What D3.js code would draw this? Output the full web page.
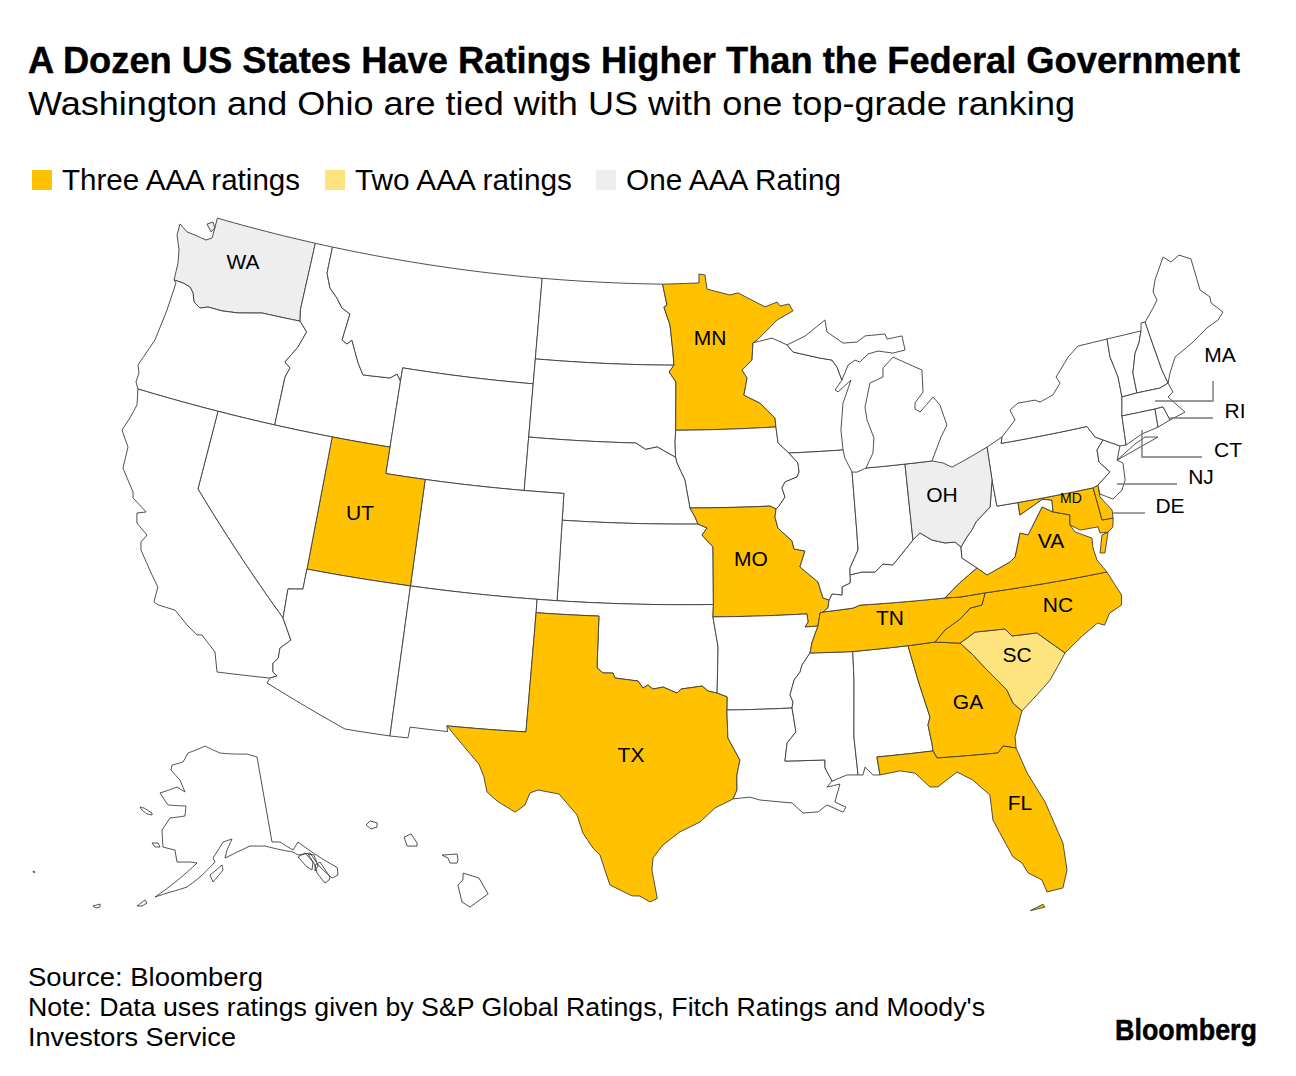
<!DOCTYPE html>
<html><head><meta charset="utf-8">
<script src="https://cdn.jsdelivr.net/npm/d3@7"></script>
<style>
html,body{margin:0;padding:0;background:#fff}
svg{display:block}
text{font-family:"Liberation Sans",Arial,sans-serif;fill:#000}
</style></head><body><svg id="c" width="1296" height="1076"></svg>
<script>
// ---- rating groups ----
const threeAAA=["MN","UT","MO","TX","TN","NC","VA","MD","DE","GA","FL"];
const twoAAA=["SC"];
const oneAAA=["WA","OH"];
const legendLabels=["Three AAA ratings","Two AAA ratings","One AAA Rating"];
const legendColors=["#FFC100","#FDE47F","#EEEEEE"];

// ---- shared borders, [lon, lat] ----
const waCoast=[[-117.04,49],[-122.76,49],[-122.74,48.34],[-122.74,48.22],[-123.03,48.08],[-123.7,48.14],[-124.18,48.17],[-124.68,48.38],[-124.66,47.95],[-124.31,47.43],[-124.15,46.94],[-124.09,46.29]];
const sanJuan=[[-123.23,48.67],[-122.94,48.81],[-122.74,48.61],[-122.89,48.43]];
const waOr=[[-124.09,46.29],[-123.58,46.28],[-123.15,46.21],[-122.9,46.02],[-122.72,45.71],[-122.32,45.55],[-121.92,45.67],[-121.14,45.67],[-120.28,45.75],[-119.02,45.97],[-116.92,46]];
const waId=[[-116.92,46],[-117.04,46.42],[-117.04,49]];
const orCoast=[[-124.09,46.29],[-123.94,46.2],[-123.98,45.13],[-124.13,43.93],[-124.59,42.85],[-124.42,42.57],[-124.43,42.22],[-124.23,41.99]];
const caOr=[[-124.23,41.99],[-120,42]];
const nvOr=[[-120,42],[-117.03,42]];
const orId=[[-117.03,42],[-117.05,43.83],[-116.9,44.2],[-117.23,44.38],[-116.73,45.03],[-116.45,45.66],[-116.92,46]];
const idNorth=[[-117.04,49],[-116.05,49]];
const idMt=[[-116.05,49],[-116.04,47.99],[-115.71,47.46],[-115.22,47.14],[-114.84,46.81],[-114.35,46.65],[-114.5,45.63],[-114.2,45.52],[-113.98,45.7],[-113.43,44.9],[-113.06,44.49],[-111.63,44.55],[-111.29,44.74],[-111.09,44.54],[-111.05,44.48]];
const idWy=[[-111.05,44.48],[-111.05,42]];
const idUt=[[-111.05,42],[-114.04,42]];
const idNv=[[-114.04,42],[-117.03,42]];
const mtNorth=[[-116.05,49],[-104.05,49]];
const ndMt=[[-104.05,49],[-104.05,45.94]];
const sdMt=[[-104.05,45.94],[-104.05,45]];
const mtWy=[[-104.05,45],[-111.05,45],[-111.05,44.48]];
const wySd=[[-104.05,45],[-104.05,43]];
const wyNe=[[-104.05,43],[-104.05,41]];
const wyCo=[[-104.05,41],[-109.05,41]];
const wyUt=[[-109.05,41],[-111.05,41],[-111.05,42]];
const ndNorth=[[-104.05,49],[-97.23,49]];
const ndMn=[[-97.23,49],[-96.97,48.21],[-97.14,48.13],[-96.79,47.45],[-96.62,46.44],[-96.56,45.94]];
const ndSd=[[-96.56,45.94],[-104.05,45.94]];
const sdMn=[[-96.45,43.5],[-96.45,45.31],[-96.82,45.68],[-96.56,45.94]];
const sdIa=[[-96.45,42.49],[-96.48,43.06],[-96.45,43.5]];
const sdNe=[[-104.05,43],[-98.5,43],[-98,42.77],[-97.4,42.87],[-96.45,42.49]];
const mnNorth=[[-97.23,49],[-95.17,49.05],[-95.17,49.39],[-94.83,49.35],[-94.72,48.81],[-93.43,48.57],[-92.98,48.64],[-91.5,48.07],[-90.82,48.23],[-90.66,48.07],[-90.16,48.13],[-89.96,47.86],[-90.87,47.55],[-92.02,46.83],[-92.25,46.73]];
const mnWi=[[-92.25,46.73],[-92.34,46.09],[-92.9,45.72],[-92.64,45.42],[-92.84,44.78],[-92.01,44.46],[-91.25,43.87],[-91.23,43.54]];
const mnIa=[[-91.23,43.54],[-96.45,43.5]];
const iaNe=[[-96.45,42.49],[-96.38,42.28],[-95.97,41.64],[-95.72,40.6]];
const iaMo=[[-95.72,40.6],[-91.72,40.6],[-91.43,40.48]];
const iaIl=[[-91.43,40.48],[-91.27,40.59],[-90.95,40.91],[-91.08,41.25],[-90.91,41.47],[-90.29,41.63],[-90.17,41.81],[-90.2,42.15],[-90.63,42.54]];
const iaWi=[[-90.63,42.54],[-91.16,42.94],[-91.23,43.54]];
const neMo=[[-95.72,40.6],[-95.47,40.26],[-95.32,40]];
const neKs=[[-95.32,40],[-102.05,40]];
const neCo=[[-102.05,40],[-102.05,41],[-104.05,41]];
const ksMo=[[-95.32,40],[-94.88,39.85],[-95.13,39.59],[-94.6,39.14],[-94.62,37]];
const ksOk=[[-94.62,37],[-102.05,37]];
const ksCo=[[-102.05,37],[-102.05,40]];
const coOk=[[-102.05,37],[-103,37]];
const coNm=[[-103,37],[-109.05,37]];
const coUt=[[-109.05,37],[-109.05,41]];
const utAz=[[-109.05,37],[-114.03,36.99]];
const utNv=[[-114.03,36.99],[-114.04,42]];
const azNv=[[-114.03,36.99],[-114.04,36.23],[-114.73,36.13],[-114.69,35.03]];
const caNv=[[-114.69,35.03],[-120,39.01],[-120,42]];
const caAz=[[-114.69,35.03],[-114.14,34.28],[-114.56,33.91],[-114.55,33.53],[-114.74,33.31],[-114.66,32.98],[-114.45,32.87],[-114.74,32.74]];
const caCoast=[[-114.74,32.74],[-117.12,32.55],[-117.41,33.26],[-118.16,33.77],[-118.38,33.73],[-118.93,34],[-119.63,34.43],[-120.44,34.46],[-120.66,34.53],[-120.66,35.1],[-121.07,35.48],[-121.88,36.27],[-121.98,36.55],[-121.79,36.86],[-122.41,37.19],[-122.54,37.55],[-122.13,37.68],[-122.92,38.05],[-123,38.26],[-123.8,39.01],[-123.86,39.81],[-124.39,40.35],[-124.19,40.87],[-124.04,41.41],[-124.23,41.99]];
const azNm=[[-109.05,37],[-109.04,31.35]];
const azMex=[[-109.04,31.35],[-111.05,31.36],[-114.83,32.54],[-114.74,32.74]];
const nmOk=[[-103,37],[-103,36.5]];
const nmTx=[[-103,36.5],[-103.06,32.04],[-106.59,31.99]];
const nmMex=[[-106.59,31.99],[-106.53,31.78],[-108.21,31.78],[-108.24,31.37],[-109.04,31.35]];
const okMo=[[-94.62,37],[-94.65,36.54]];
const okAr=[[-94.65,36.54],[-94.43,35.42],[-94.51,33.7]];
const okTx=[[-94.51,33.7],[-94.92,33.78],[-95.19,33.97],[-96.15,33.86],[-96.33,33.71],[-96.97,33.93],[-97.43,33.85],[-97.66,34],[-97.89,33.88],[-98.12,34.14],[-99.18,34.23],[-99.28,34.41],[-99.73,34.4],[-100.02,34.58],[-100.03,36.51],[-103,36.5]];
const moIl=[[-91.43,40.48],[-91.5,40.18],[-91.38,39.77],[-90.72,39.26],[-90.65,38.96],[-90.12,38.86],[-90.41,38.28],[-89.59,37.68],[-89.4,37.07],[-89.12,36.98]];
const moKy=[[-89.12,36.98],[-89.2,36.69],[-89.45,36.55]];
const moTn=[[-89.45,36.55],[-89.59,36.52],[-89.73,36.04]];
const moAr=[[-89.73,36.04],[-90.34,36.04],[-90.18,36.22],[-90.21,36.52],[-94.65,36.54]];
const arTn=[[-89.73,36.04],[-90.05,35.46],[-90.18,35.06]];
const arMs=[[-90.18,35.06],[-90.58,34.63],[-90.69,34.37],[-90.98,34.09],[-91.2,33.54],[-91.08,33.27],[-91.14,33.05]];
const arLa=[[-91.14,33.05],[-94.08,33.06]];
const arTx=[[-94.08,33.06],[-94.06,33.55],[-94.51,33.7]];
const txLa=[[-94.08,33.06],[-94.06,32.02],[-93.55,31.18],[-93.7,30.62],[-93.71,30.06],[-93.89,29.73]];
const txCoast=[[-93.89,29.73],[-94.68,29.4],[-95.33,28.88],[-96.19,28.51],[-96.91,28.01],[-97.32,27.52],[-97.36,27.06],[-97.12,25.99],[-97.42,25.85],[-97.84,26.07],[-98.17,26.07],[-99.1,26.46],[-99.56,27.58],[-99.87,27.83],[-100.32,28.38],[-100.61,29.05],[-101.43,29.8],[-102.35,29.9],[-102.69,29.77],[-102.87,29.3],[-103.27,29.01],[-104.08,29.37],[-104.55,29.68],[-104.74,30.23],[-105.01,30.69],[-106.59,31.99]];
const laMs=[[-91.14,33.05],[-91.02,32.15],[-91.44,31.75],[-91.57,31.08],[-89.81,31.04],[-89.83,30.74],[-89.56,30.23]];
const laCoast=[[-89.56,30.23],[-89.8,30.02],[-89.23,30.1],[-89.5,29.44],[-89.04,29.22],[-89.18,29.04],[-89.85,29.35],[-90.25,29.11],[-90.9,29.1],[-91.35,29.5],[-91.87,29.56],[-92.73,29.66],[-93.16,29.78],[-93.89,29.73]];
const tnMs=[[-90.18,35.06],[-88.2,35]];
const msAl=[[-88.2,35],[-88.25,33.94],[-88.46,31.82],[-88.41,30.39]];
const msCoast=[[-88.41,30.39],[-88.89,30.42],[-89.56,30.23]];
const tnAl=[[-88.2,35],[-85.63,35.02]];
const alGa=[[-85.63,35.02],[-85.35,33.71],[-85,32.28],[-85.13,32],[-85.05,31.31],[-85.04,31.01]];
const alFl=[[-85.04,31.01],[-87.52,31],[-87.46,30.32]];
const alCoast=[[-87.46,30.32],[-87.76,30.34],[-88.08,30.66],[-88.2,30.37],[-88.41,30.39]];
const tnGa=[[-85.63,35.02],[-84.37,35.04]];
const ncGa=[[-84.37,35.04],[-83.23,34.88]];
const gaSc=[[-83.23,34.88],[-82.71,34.38],[-82.25,33.83],[-81.79,33.32],[-81.42,32.9],[-81.24,32.38],[-80.9,32.04]];
const gaCoast=[[-80.9,32.04],[-81.38,31.12],[-81.41,30.7]];
const gaFl=[[-81.41,30.7],[-81.96,30.85],[-82.23,30.62],[-84.9,30.73],[-85.04,31.01]];
const flCoast=[[-81.41,30.7],[-81.1,29.71],[-80.54,28.53],[-80.08,26.89],[-80.1,25.86],[-80.39,25.21],[-81.06,25.16],[-81.19,25.64],[-81.71,25.98],[-81.9,26.39],[-82.23,26.66],[-82.85,28.15],[-82.83,29.1],[-83.47,29.74],[-84.11,30.12],[-85.01,29.65],[-85.35,29.68],[-85.93,30.26],[-86.57,30.4],[-87.46,30.32]];
const flKeys=[[-81.85,24.55],[-81.3,24.72],[-81.25,24.6]];
const ncSc=[[-78.54,33.9],[-79.65,34.82],[-80.81,34.86],[-81.08,35.16],[-82.47,35.21],[-83.23,34.88]];
const scCoast=[[-80.9,32.04],[-80.12,32.54],[-79.43,33],[-78.54,33.9]];
const ncCoast=[[-78.54,33.9],[-77.68,34.37],[-76.82,34.76],[-76.52,34.63],[-76.18,35.03],[-75.56,35.23],[-75.46,35.6],[-75.9,36.55]];
const vaNc=[[-75.9,36.55],[-80.21,36.59],[-81.74,36.6]];
const tnNc=[[-81.74,36.6],[-81.97,36.17],[-82.54,36.12],[-83.07,35.77],[-83.84,35.44],[-84.37,35.04]];
const kyTn=[[-83.65,36.62],[-87.68,36.7],[-88.02,36.61],[-89.45,36.55]];
const vaTn=[[-81.74,36.6],[-82.94,36.58],[-83.65,36.62]];
const vaKy=[[-83.65,36.62],[-82.85,37.11],[-81.94,37.56]];
const kyWv=[[-81.94,37.56],[-82.59,38.01],[-82.56,38.42]];
const ohKy=[[-82.56,38.42],[-82.81,38.63],[-83.3,38.65],[-83.91,38.82],[-84.45,39.14],[-84.83,38.91]];
const inKy=[[-84.83,38.91],[-85.93,38.07],[-86.4,38.14],[-86.82,37.87],[-87.44,37.92],[-88.03,37.85]];
const ilKy=[[-88.03,37.85],[-88.06,37.55],[-88.46,37.43],[-88.49,37.13],[-88.96,37.2],[-89.12,36.98]];
const vaCoast=[[-75.9,36.55],[-76.24,37.06],[-76.31,37.53],[-76.26,37.9]];
const vaBay=[[-76.26,37.9],[-77,38.25],[-77.17,38.54]];
const vaMd=[[-77.17,38.54],[-77.08,38.91],[-77.86,39.14]];
const vaWv=[[-81.94,37.56],[-81.52,37.25],[-80.34,37.59],[-80.06,37.74],[-79.63,38.59],[-79.26,38.47],[-78.34,39.4],[-77.86,39.14]];
const vaShore=[[-75.44,37.99],[-75.76,37.93],[-76.03,37.29],[-75.8,37.26]];
const ohWv=[[-80.55,40.71],[-80.86,39.73],[-81.66,39.26],[-81.91,38.99],[-82.2,38.76],[-82.56,38.42]];
const wvMd=[[-77.86,39.14],[-77.8,39.58],[-78.26,39.68],[-79.48,39.25],[-79.47,39.72]];
const wvPa=[[-79.47,39.72],[-80.52,39.72],[-80.55,40.71]];
const mdPa=[[-79.47,39.72],[-75.69,39.72]];
const mdDe=[[-75.69,39.72],[-75.6,38.48],[-75.06,38.46]];
const mdShore=[[-75.06,38.46],[-75.16,38.14],[-75.44,37.99],[-75.83,38.02],[-75.86,38.26],[-76.74,38.28],[-77.17,38.54]];
const dePa=[[-75.69,39.72],[-75.43,39.78]];
const deCoast=[[-75.43,39.78],[-75.46,39.33],[-75.02,38.76],[-75.06,38.46]];
const paNj=[[-75.43,39.78],[-74.71,40.16],[-75.13,40.61],[-75.1,41.06],[-74.69,41.38]];
const paNy=[[-74.69,41.38],[-75.05,41.55],[-75.34,42],[-79.79,42],[-79.69,42.23]];
const paErie=[[-79.69,42.23],[-80.53,41.95]];
const ohPa=[[-80.53,41.95],[-80.55,40.71]];
const nyNj=[[-74.69,41.38],[-73.93,41.02],[-74.23,40.53]];
const njCoast=[[-74.23,40.53],[-73.98,40.37],[-74.07,39.74],[-74.33,39.4],[-74.86,39.15],[-75.43,39.44],[-75.43,39.78]];
const nyLakes=[[-79.69,42.23],[-78.88,42.77],[-79.05,43.17],[-78.57,43.37],[-77.68,43.36],[-77.44,43.25],[-76.71,43.42],[-76.22,43.8],[-76.36,44.05],[-75.52,44.69],[-74.88,45.01],[-73.29,45.02]];
const nyVt=[[-73.29,45.02],[-73.36,44.34],[-73.2,43.54],[-73.25,42.78]];
const nyMa=[[-73.25,42.78],[-73.48,42.09]];
const nyCt=[[-73.48,42.09],[-73.62,41]];
const longIsland=[[-74.23,40.53],[-73.17,40.96],[-72.6,41.12],[-71.97,41]];
const vtNorth=[[-73.29,45.02],[-71.43,45]];
const vtNh=[[-71.43,45],[-71.7,44.58],[-72.03,44.25],[-72.4,43.55],[-72.45,42.79]];
const vtMa=[[-72.45,42.79],[-73.25,42.78]];
const nhMa=[[-72.45,42.79],[-71.24,42.75],[-70.77,42.85]];
const nhMe=[[-70.77,42.85],[-70.9,43.38],[-71.1,45.28]];
const nhTop=[[-71.1,45.28],[-71.32,45.29],[-71.43,45]];
const meCoast=[[-70.77,42.85],[-70.54,43.19],[-70.06,43.72],[-69.01,44.05],[-68.03,44.43],[-67.35,44.59],[-66.97,44.82],[-67.43,45.28],[-67.39,45.51],[-67.79,45.87],[-67.77,47.09],[-68.34,47.36],[-68.87,47.19],[-69.21,47.46],[-69.98,46.71],[-70.26,46.29],[-70.17,45.96],[-70.49,45.71],[-71.1,45.28]];
const maCoast=[[-70.77,42.85],[-70.65,42.48],[-70.96,42.35],[-70.7,42.06],[-70.33,41.64],[-71.17,41.5]];
const maRi=[[-71.17,41.5],[-71.34,42.04],[-71.76,42.04]];
const maCt=[[-71.76,42.04],[-73.48,42.09]];
const ctRi=[[-71.76,42.04],[-71.84,41.36]];
const ctCoast=[[-71.84,41.36],[-72.71,41.26],[-73.62,41]];
const riCoast=[[-71.17,41.5],[-71.84,41.36]];
const wiSuperior=[[-92.25,46.73],[-91.2,46.88],[-90.4,46.59]];
const wiUp=[[-90.4,46.59],[-90.1,46.31],[-88.66,46.01],[-88.03,45.9],[-87.79,45.62],[-87.59,45.12]];
const wiLake=[[-87.59,45.12],[-88,44.77],[-87.85,44.69],[-87.11,45.09],[-87.45,44.55],[-87.64,44.26],[-87.87,43.26],[-87.85,42.51]];
const wiIl=[[-87.85,42.51],[-90.63,42.54]];
const ilLake=[[-87.85,42.51],[-87.79,42.2],[-87.49,41.66]];
const ilIn=[[-87.49,41.66],[-87.52,39.38],[-87.54,38.75],[-88,38.11],[-88.03,37.85]];
const inLake=[[-86.77,41.76],[-87.24,41.64],[-87.49,41.66]];
const inOh=[[-84.78,41.75],[-84.83,38.91]];
const miIn=[[-84.78,41.75],[-86.77,41.76]];
const miOh=[[-84.78,41.75],[-83.4,41.74]];
const ohLake=[[-83.4,41.74],[-82.86,41.61],[-82.44,41.41],[-81.46,41.68],[-80.53,41.95]];
const miLower=[[-83.4,41.74],[-82.78,42.58],[-82.39,42.99],[-82.6,43.77],[-82.9,44.1],[-83.68,43.61],[-83.92,43.75],[-83.88,43.97],[-83.39,44.34],[-83.29,45.16],[-84.74,45.78],[-85.34,45.42],[-85.4,45.08],[-86.12,44.91],[-86.2,44.73],[-86.51,44.03],[-86.47,43.54],[-86.21,42.85],[-86.34,42.29],[-86.77,41.76]];
const upShore=[[-90.4,46.59],[-89.39,46.88],[-88.23,47.43],[-88.17,46.97],[-87.35,46.5],[-86.59,46.49],[-86.12,46.69],[-85.03,46.68],[-84.95,46.48],[-84.12,46.53],[-84.05,45.99],[-84.72,45.93],[-85.51,46.07],[-86.06,46],[-86.54,45.73],[-86.79,45.82],[-87.19,45.66],[-87.59,45.12]];
// ---- Alaska and Hawaii ----
const akMain=[[-140.43,69.79],[-143.37,70.32],[-152.02,70.72],[-157,71.49],[-162.39,70.55],[-163.57,69.48],[-166.73,68.94],[-166.74,68.38],[-163.68,67.45],[-161.87,66.22],[-164.22,66.64],[-168.45,65.65],[-165.79,64.53],[-161.19,64.7],[-161.17,63.6],[-164.75,63.16],[-166.14,61.72],[-165.24,59.9],[-162.54,59.77],[-161.8,58.5],[-159.07,58.64],[-157.57,58.58],[-165.14,54.36],[-163,54.99],[-159.28,55.88],[-156.82,57.06],[-153.77,58.74],[-154.2,59.17],[-151.94,60.91],[-149.86,61.19],[-151.11,60.02],[-151.62,59.15],[-148.95,59.73],[-145.97,60.25],[-142.69,60.01],[-137.04,58.72],[-136.19,58.26],[-133.66,58.1],[-132.61,56.3],[-131.11,54.73],[-129.84,54.81],[-129.47,55.61],[-135.44,59.63],[-136.93,58.93],[-139.26,60.12],[-141,60.3]];
const akStLawrence=[[-172.53,63.62],[-171.51,63.63],[-169.3,63.31],[-169.19,63.1],[-170.43,63.08],[-171.86,63.36]];
const akNunivak=[[-167.79,60.11],[-166.48,60.24],[-165.89,59.85],[-166.97,59.75]];
const akKodiak=[[-154.8,57.31],[-152.3,58.4],[-152.12,57.85],[-154.18,56.55]];
const akUnimak=[[-168.1,53.01],[-166.88,53.84],[-166.41,53.55],[-167.2,53.12]];
const akUmnak=[[-175.69,51.72],[-174.62,52.17],[-174.46,51.86],[-175.08,51.61]];
const akAttu=[[172,52.55],[172.4,52.57],[172.33,52.42]];
const akBaranof=[[-136.3,58.05],[-134.66,58.26],[-133.64,57.06],[-134.3,56.26],[-135.08,56.73]];
const akKupreanof=[[-134.12,58.06],[-133,57.76],[-132.93,56.48],[-133.79,56.05],[-133.43,56.68]];
const akPrince=[[-133.43,56.68],[-132.29,56.82],[-131.41,54.91],[-131.77,54.63],[-132.67,54.46],[-133.54,55.78]];
const hiKauai=[[-159.86,22.05],[-159.7,22.2],[-159.42,22.13],[-159.42,21.97],[-159.66,21.9]];
const hiOahu=[[-158.33,21.6],[-158.05,21.72],[-157.81,21.38],[-157.81,21.26],[-158.21,21.26]];
const hiMaui=[[-156.81,20.92],[-156.21,20.96],[-156.17,20.73],[-156.21,20.62],[-156.49,20.62],[-156.57,20.81]];
const hiBig=[[-155.97,20.24],[-155.34,20.05],[-154.98,19.45],[-155.7,18.96],[-156.02,19.15],[-156.18,19.79],[-155.98,19.98]];

const rev=a=>a.slice().reverse();
const states=[
 {id:"WA",rings:[[waCoast,waOr,waId],[sanJuan]]},
 {id:"OR",rings:[[orCoast,caOr,nvOr,orId,rev(waOr)]]},
 {id:"ID",rings:[[idNorth,idMt,idWy,idUt,idNv,orId,waId]]},
 {id:"MT",rings:[[mtNorth,ndMt,sdMt,mtWy,rev(idMt)]]},
 {id:"WY",rings:[[rev(mtWy),wySd,wyNe,wyCo,wyUt,rev(idWy)]]},
 {id:"ND",rings:[[ndNorth,ndMn,ndSd,rev(ndMt)]]},
 {id:"SD",rings:[[rev(ndSd),rev(sdMn),rev(sdIa),rev(sdNe),rev(wySd),rev(sdMt)]]},
 {id:"MN",rings:[[mnNorth,mnWi,mnIa,sdMn,rev(ndMn)]]},
 {id:"IA",rings:[[rev(mnIa),rev(iaWi),rev(iaIl),rev(iaMo),rev(iaNe),sdIa]]},
 {id:"NE",rings:[[sdNe,iaNe,neMo,neKs,neCo,rev(wyNe)]]},
 {id:"KS",rings:[[rev(neKs),ksMo,ksOk,ksCo]]},
 {id:"CO",rings:[[rev(neCo),rev(ksCo),coOk,coNm,coUt,rev(wyCo)]]},
 {id:"UT",rings:[[rev(idUt),rev(wyUt),rev(coUt),utAz,utNv]]},
 {id:"NV",rings:[[nvOr,rev(idNv),rev(utNv),azNv,caNv]]},
 {id:"CA",rings:[[caOr,rev(caNv),caAz,caCoast]]},
 {id:"AZ",rings:[[rev(utAz),azNm,azMex,rev(caAz),rev(azNv)]]},
 {id:"NM",rings:[[rev(coNm),nmOk,nmTx,nmMex,rev(azNm)]]},
 {id:"OK",rings:[[rev(coOk),rev(ksOk),okMo,okAr,okTx,rev(nmOk)]]},
 {id:"MO",rings:[[iaMo,moIl,moKy,moTn,moAr,rev(okMo),rev(ksMo),rev(neMo)]]},
 {id:"AR",rings:[[rev(moAr),arTn,arMs,arLa,arTx,rev(okAr)]]},
 {id:"TX",rings:[[rev(nmTx),rev(okTx),rev(arTx),txLa,txCoast]]},
 {id:"LA",rings:[[rev(arLa),laMs,laCoast,rev(txLa)]]},
 {id:"MS",rings:[[tnMs,msAl,msCoast,rev(laMs),rev(arMs)]]},
 {id:"AL",rings:[[tnAl,alGa,alFl,alCoast,rev(msAl)]]},
 {id:"GA",rings:[[tnGa,ncGa,gaSc,gaCoast,gaFl,rev(alGa)]]},
 {id:"FL",rings:[[flCoast,rev(alFl),rev(gaFl)],[flKeys]]},
 {id:"SC",rings:[[ncSc,gaSc,scCoast]]},
 {id:"NC",rings:[[vaNc,tnNc,ncGa,rev(ncSc),ncCoast]]},
 {id:"TN",rings:[[kyTn,moTn,arTn,tnMs,tnAl,tnGa,rev(tnNc),vaTn]]},
 {id:"KY",rings:[[ohKy,inKy,ilKy,moKy,rev(kyTn),vaKy,kyWv]]},
 {id:"VA",rings:[[rev(vaTn),rev(vaNc),vaCoast,vaBay,vaMd,rev(vaWv),rev(vaKy)],[vaShore]]},
 {id:"WV",rings:[[ohWv,rev(kyWv),vaWv,wvMd,wvPa]]},
 {id:"MD",rings:[[mdPa,mdDe,mdShore,vaMd,wvMd]]},
 {id:"DE",rings:[[rev(mdDe),dePa,deCoast]]},
 {id:"PA",rings:[[mdPa,dePa,paNj,paNy,paErie,ohPa,rev(wvPa)]]},
 {id:"NJ",rings:[[nyNj,njCoast,paNj]]},
 {id:"NY",rings:[[nyLakes,nyVt,nyMa,nyCt,rev(nyNj).slice(1),paNy],[longIsland]]},
 {id:"VT",rings:[[rev(nyVt),vtNorth,vtNh,vtMa]]},
 {id:"NH",rings:[[vtNh,nhMa,nhMe,nhTop]]},
 {id:"ME",rings:[[rev(nhMe),meCoast]]},
 {id:"MA",rings:[[rev(vtMa),nhMa,maCoast,maRi,maCt,rev(nyMa)]]},
 {id:"CT",rings:[[rev(maCt),ctRi,ctCoast,rev(nyCt)]]},
 {id:"RI",rings:[[rev(maRi),riCoast,rev(ctRi)]]},
 {id:"WI",rings:[[rev(mnWi),wiSuperior,wiUp,wiLake,wiIl,iaWi]]},
 {id:"IL",rings:[[rev(wiIl),ilLake,ilIn,ilKy,rev(moIl),iaIl]]},
 {id:"IN",rings:[[inLake,ilIn,rev(inKy),rev(inOh),miIn]]},
 {id:"OH",rings:[[ohLake,ohPa,ohWv,ohKy,rev(inOh),miOh]]},
 {id:"MI",rings:[[miLower,rev(miIn),miOh],[upShore,rev(wiUp)]]},
 {id:"AK",proj:"ak",rings:[[akMain],[akStLawrence],[akNunivak],[akKodiak],[akUnimak],[akUmnak],[akAttu],[akBaranof],[akKupreanof],[akPrince]]},
 {id:"HI",proj:"hi",rings:[[hiKauai],[hiOahu],[hiMaui],[hiBig]]}
];

// ---- projections ----
const lower48=d3.geoAlbers().scale(1525).translate([672,559]);
function anchored(p,ll,xy){p.translate([0,0]);const q=p(ll);return p.translate([xy[0]-q[0],xy[1]-q[1]]);}
const alaska=anchored(d3.geoConicEqualArea().rotate([154,0]).center([-2,58.5]).parallels([55,65]).scale(522),[-141,60.3],[272,842]);
const hawaii=anchored(d3.geoConicEqualArea().rotate([157,0]).center([-3,19.9]).parallels([8,18]).scale(1525),[-155.5,19.6],[475,890]);
const paths={ak:d3.geoPath(alaska),hi:d3.geoPath(hawaii),us:d3.geoPath(lower48)};

function densify(line){
  const out=[];
  line.forEach((p,i)=>{
    if(i===0){out.push(p);return;}
    const a=line[i-1],n=Math.ceil(Math.max(Math.abs(p[0]-a[0]),Math.abs(p[1]-a[1]))/0.5)||1;
    for(let k=1;k<=n;k++)out.push([a[0]+(p[0]-a[0])*k/n,a[1]+(p[1]-a[1])*k/n]);
  });
  return out;
}
function feature(s){
  const polys=s.rings.map(parts=>{
    let ring=densify(parts.flat());
    ring=ring.filter((p,i)=>i===0||p[0]!==ring[i-1][0]||p[1]!==ring[i-1][1]);
    const f=ring[0],l=ring[ring.length-1];
    if(f[0]!==l[0]||f[1]!==l[1])ring.push(f);
    if(d3.geoArea({type:"Polygon",coordinates:[ring]})>2*Math.PI)ring.reverse();
    return [ring];
  });
  return {type:"MultiPolygon",coordinates:polys};
}
const fillOf=id=>threeAAA.includes(id)?legendColors[0]:twoAAA.includes(id)?legendColors[1]:oneAAA.includes(id)?legendColors[2]:"#fff";

const svg=d3.select("#c");
svg.append("g").selectAll("path").data(states).join("path")
  .attr("d",s=>paths[s.proj||"us"](feature(s)))
  .attr("fill",s=>fillOf(s.id)).attr("stroke","#3c3c3c").attr("stroke-width",0.9).attr("stroke-linejoin","round");

// ---- header ----
function txt(str,x,y,size,w,weight,bolden){
  const t=svg.append("text").attr("x",x).attr("y",y).attr("font-size",size).attr("font-weight",weight||400)
    .attr("textLength",w).attr("lengthAdjust","spacingAndGlyphs").text(str);
  if(bolden)t.attr("stroke","#000").attr("stroke-width",bolden);
  return t;
}
txt("A Dozen US States Have Ratings Higher Than the Federal Government",28,73,36.5,1212,700,0.4);
txt("Washington and Ohio are tied with US with one top-grade ranking",28,115,33,1047);
const legendX=[32,325,596],legendTextX=[62,355,626],legendW=[238,217,215];
legendLabels.forEach((l,i)=>{
  svg.append("rect").attr("x",legendX[i]).attr("y",170).attr("width",20).attr("height",20).attr("fill",legendColors[i]);
  txt(l,legendTextX[i],190,29,legendW[i]);
});
// ---- state labels ----
const labels=[["WA",243,262],["OH",942,495],["UT",360,513],["MN",710,338],["MO",751,559],["TX",631,755],["TN",890,618],["NC",1058,605],["VA",1051,541],["SC",1017,655],["GA",968,702],["FL",1020,803],["MA",1220,355],["RI",1235,411],["CT",1228,450],["NJ",1201,477],["DE",1170,506]];
labels.forEach(d=>svg.append("text").attr("x",d[1]).attr("y",d[2]+7).attr("text-anchor","middle").attr("font-size",21).text(d[0]));
svg.append("text").attr("x",1071).attr("y",503).attr("text-anchor","middle").attr("font-size",14).text("MD");
// ---- leaders ----
const leaders=[[[1155,401],[1213,401],[1213,381]],[[1170,418],[1213,418]],[[1142,430],[1142,457],[1202,457]],[[1117,484],[1177,484]],[[1113,513],[1145,513]]];
svg.append("g").selectAll("path").data(leaders).join("path").attr("d",d3.line()).attr("fill","none").attr("stroke","#777").attr("stroke-width",1.4);
// ---- footer ----
txt("Source: Bloomberg",28,986,26.5,235);
txt("Note: Data uses ratings given by S&P Global Ratings, Fitch Ratings and Moody's",28,1016,26.5,957);
txt("Investors Service",28,1046,26.5,208);
txt("Bloomberg",1115,1040,30,142,700,0.5);
</script></body></html>
